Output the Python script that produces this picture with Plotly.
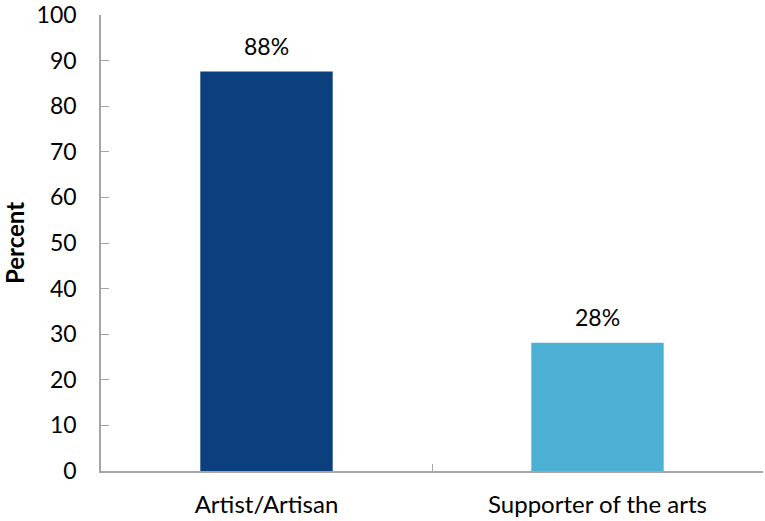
import plotly.graph_objects as go

categories = ["Artist/Artisan", "Supporter of the arts"]
values = [87.6, 28.1]
labels = ["88%", "28%"]
colors = ["#0B3F7E", "#4BB0D4"]
y_ticks = list(range(0, 101, 10))

FONT = "Lato, Open Sans, sans-serif"

fig = go.Figure()
fig.add_trace(go.Bar(x=categories, y=values, marker=dict(color=colors, line=dict(width=0)),
                     width=0.4, showlegend=False, hoverinfo="skip"))

for c, v, t in zip(categories, values, labels):
    fig.add_annotation(x=c, y=v, text=t, showarrow=False, yanchor="bottom", yshift=10,
                       font=dict(family=FONT, size=23, color="#000000"))

fig.update_layout(
    width=765, height=521,
    margin=dict(l=101, r=2, t=15, b=50),
    paper_bgcolor="white", plot_bgcolor="white",
    font=dict(family=FONT, size=23, color="#000000"),
    bargap=0.6,
)
fig.update_xaxes(
    automargin=False,
    showline=True, linecolor="#A6A6A6", linewidth=1.5,
    ticks="inside", ticklen=7, tickcolor="#A6A6A6",
    tickson="boundaries", showgrid=False,
    tickfont=dict(family=FONT, size=24, color="#000000"),
    ticklabelstandoff=11,
)
fig.update_yaxes(
    automargin=False,
    range=[0, 100], tickvals=y_ticks, showgrid=False, zeroline=False,
    showline=True, linecolor="#A6A6A6", linewidth=1.5,
    ticks="inside", ticklen=8, tickcolor="#A6A6A6",
    tickfont=dict(family=FONT, size=23, color="#000000"),
    ticklabelstandoff=18,
    title=dict(text="<b>Percent</b>", font=dict(family=FONT, size=24, color="#000000"), standoff=16),
)

fig.write_html("out.html")
